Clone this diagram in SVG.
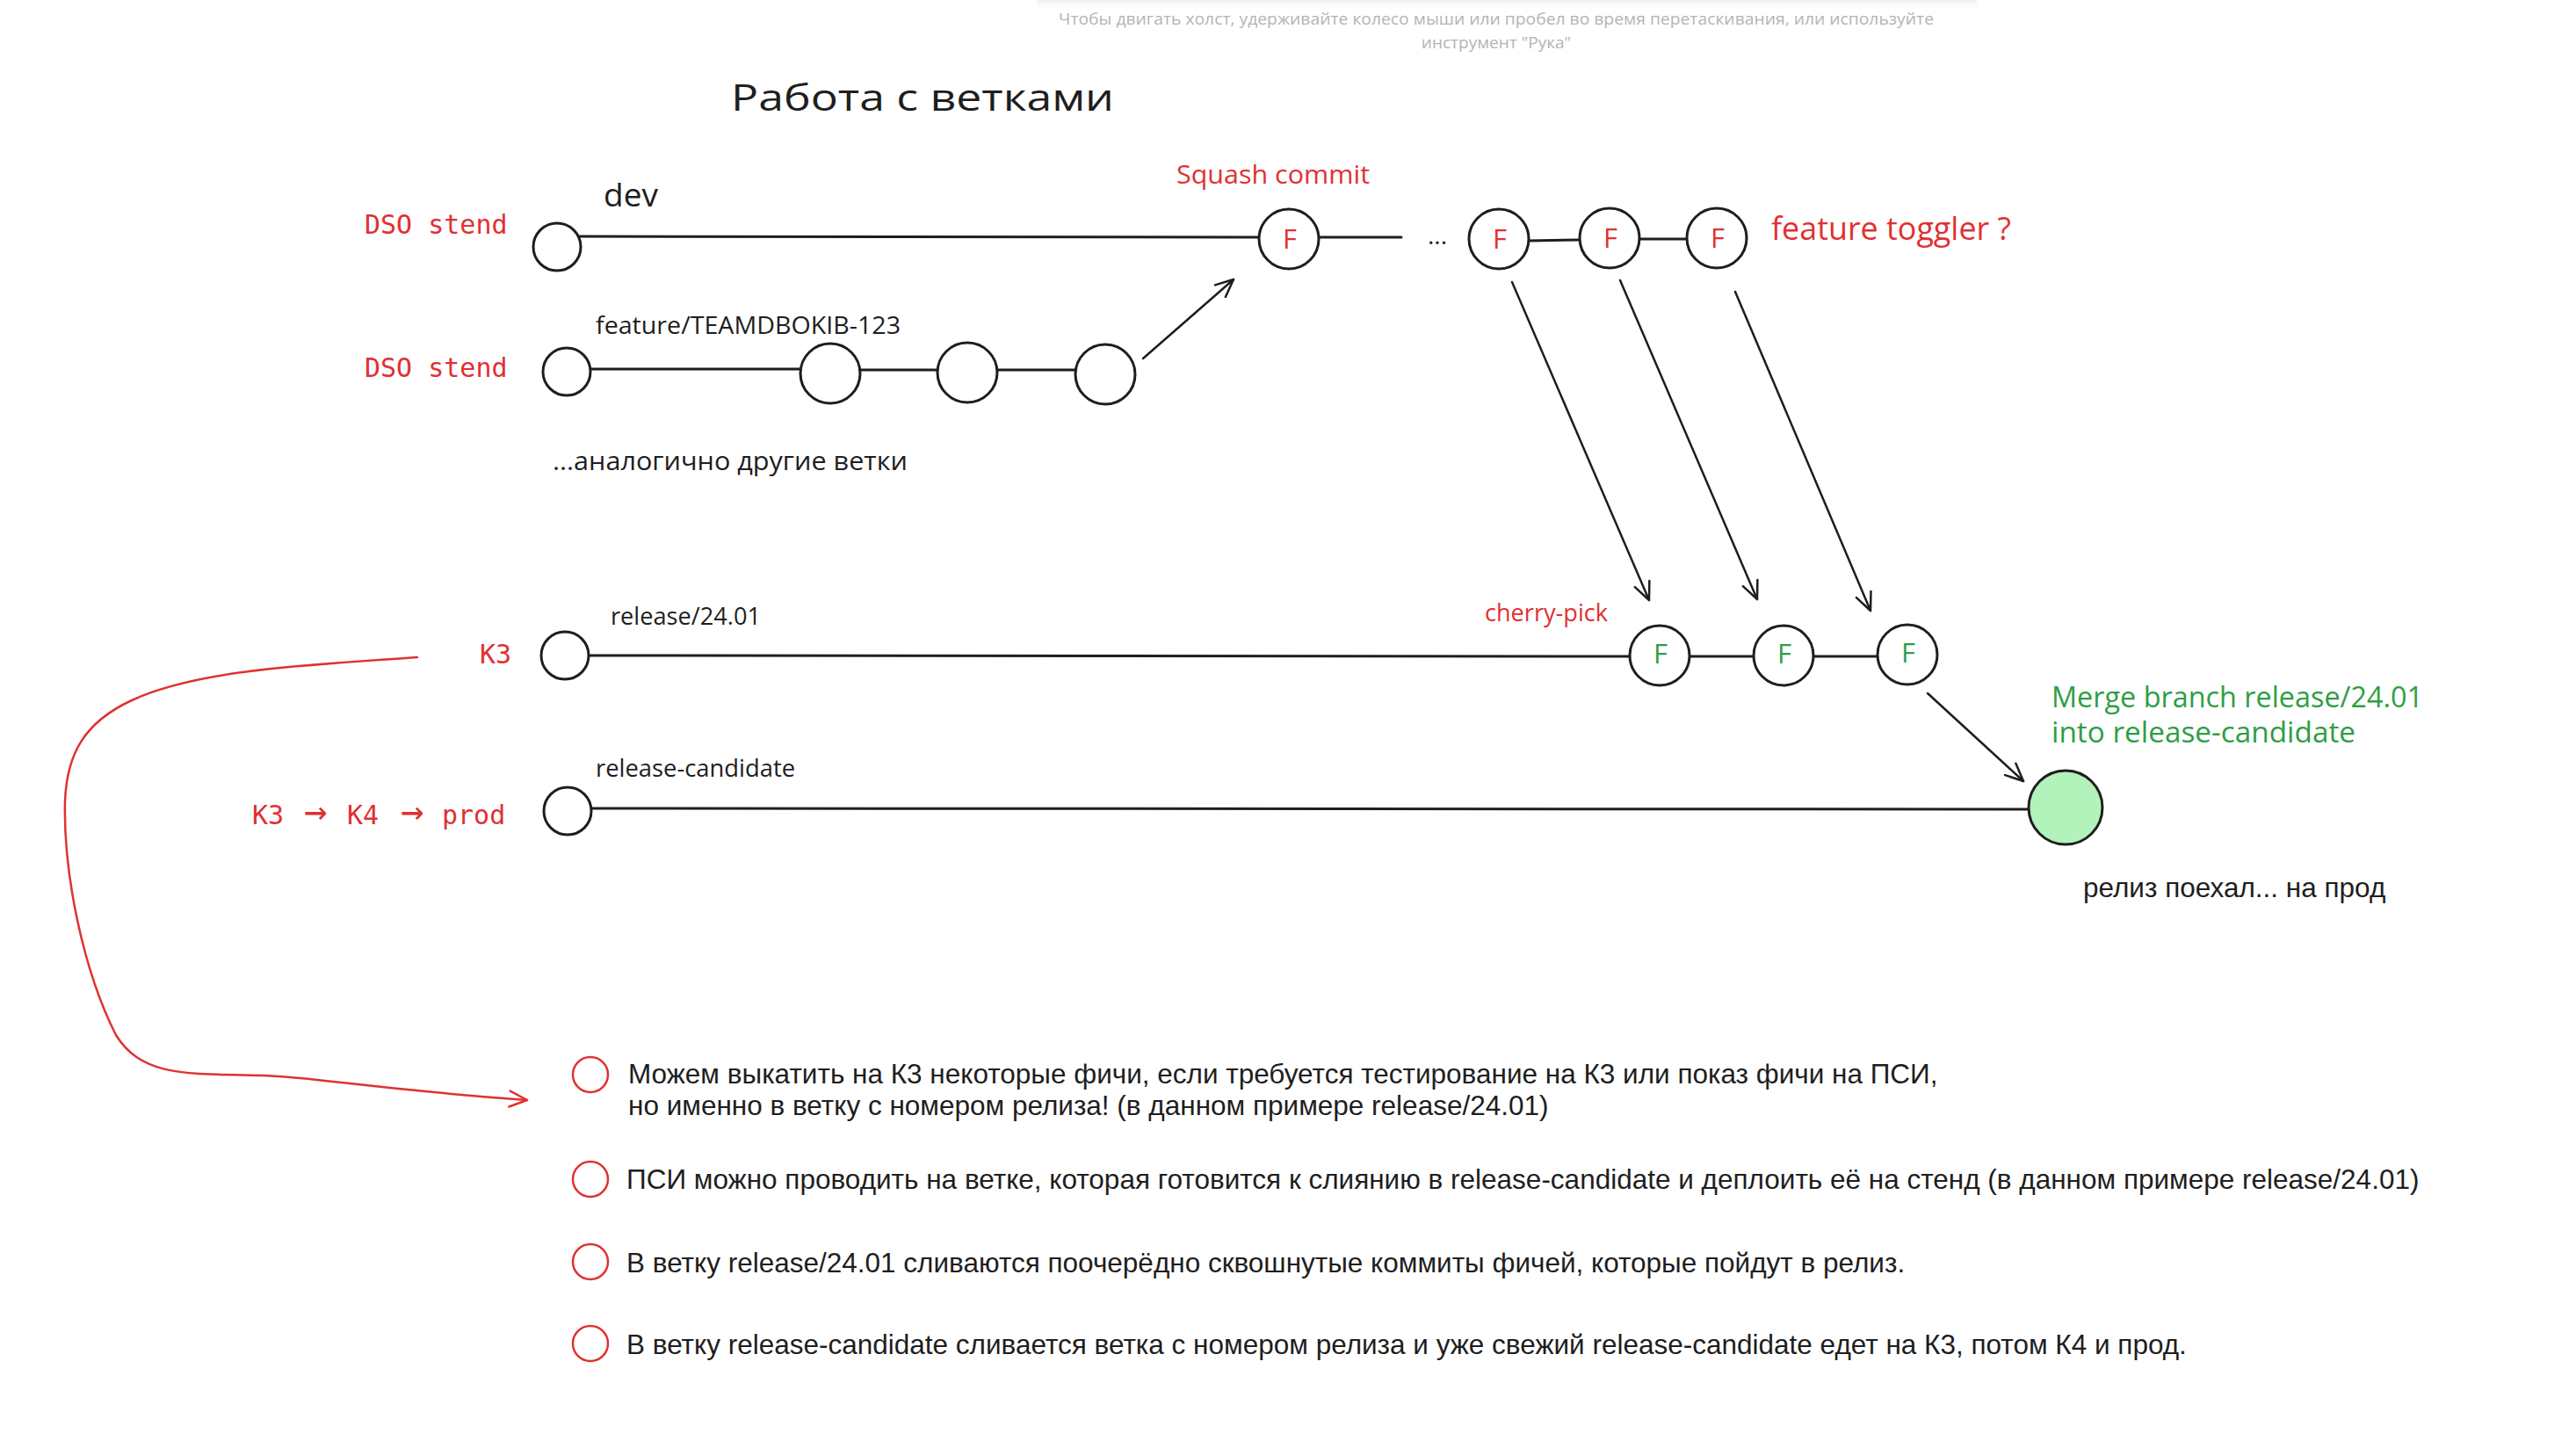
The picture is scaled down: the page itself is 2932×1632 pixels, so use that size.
<svg xmlns="http://www.w3.org/2000/svg" width="2932" height="1632" viewBox="0 0 2932 1632">
<defs>
<linearGradient id="topShade" x1="0" y1="0" x2="0" y2="1">
<stop offset="0" stop-color="#ececec" stop-opacity="0.9"/>
<stop offset="1" stop-color="#ffffff" stop-opacity="0"/>
</linearGradient>
<marker id="ah" viewBox="0 0 24 24" refX="22" refY="12" markerWidth="24" markerHeight="24" markerUnits="userSpaceOnUse" orient="auto">
<path d="M2,3 L22,12 L2,21" fill="none" stroke="#1e1e1e" stroke-width="2.5" stroke-linecap="round" stroke-linejoin="round"/>
</marker>
<marker id="ahr" viewBox="0 0 24 24" refX="22" refY="12" markerWidth="24" markerHeight="24" markerUnits="userSpaceOnUse" orient="auto">
<path d="M2,3 L22,12 L2,21" fill="none" stroke="#e03131" stroke-width="2.5" stroke-linecap="round" stroke-linejoin="round"/>
</marker>
</defs>
<style>
.node{fill:#ffffff;stroke:#1e1e1e;stroke-width:3}
.merge{fill:#b2f2bb;stroke:#1e1e1e;stroke-width:3}
.bullet{fill:none;stroke:#e03131;stroke-width:2.5}
.edge{fill:none;stroke:#1e1e1e;stroke-width:3;stroke-linecap:round}
.arrow{fill:none;stroke:#1e1e1e;stroke-width:2.5;stroke-linecap:round;marker-end:url(#ah)}
.rarrow{fill:none;stroke:#e03131;stroke-width:2.5;stroke-linecap:round;marker-end:url(#ahr)}
.hand{font-family:"Open Sans","Noto Sans",sans-serif;fill:#1e1e1e}
.mono{font-family:"DejaVu Sans Mono","Liberation Mono",monospace;fill:#e03131;font-size:30px}
.body{font-family:"Liberation Sans",Arial,sans-serif;fill:#1e1e1e;font-size:31.5px}
.hint{font-family:"Open Sans","Noto Sans",sans-serif;fill:#b4b4b4;font-size:19px}
.red{fill:#e03131}
.green{fill:#2f9e44}
.fl{font-family:"Open Sans","Noto Sans",sans-serif;font-size:31px;text-anchor:middle}
.arr{font-size:44px}
</style>
<rect x="0" y="0" width="2932" height="1632" fill="#ffffff"/>
<rect x="1180" y="0" width="1070" height="10" fill="url(#topShade)"/>

<g id="hint">
<text class="hint" x="1703" y="28" text-anchor="middle" textLength="996" lengthAdjust="spacingAndGlyphs">Чтобы двигать холст, удерживайте колесо мыши или пробел во время перетаскивания, или используйте</text>
<text class="hint" x="1703" y="55" text-anchor="middle">инструмент "Рука"</text>
</g>

<g id="title">
<text class="hand" x="832" y="126" font-size="42" textLength="436" lengthAdjust="spacingAndGlyphs">Работа с ветками</text>
</g>

<g id="labels">
<text class="mono" x="415" y="266">DSO stend</text>
<text class="mono" x="415" y="429">DSO stend</text>
<text class="mono" x="546" y="755">К3</text>
<text class="mono" y="938"><tspan x="287">К3</tspan><tspan class="arr" x="346">→</tspan><tspan x="395">К4</tspan><tspan class="arr" x="456">→</tspan><tspan x="503">prod</tspan></text>
<text class="hand" x="687" y="235" font-size="37">dev</text>
<text class="hand red" x="1339" y="209" font-size="30" textLength="220" lengthAdjust="spacingAndGlyphs">Squash commit</text>
<text class="hand" x="1625" y="278" font-size="28">...</text>
<text class="hand red" x="2016" y="273" font-size="36" textLength="273" lengthAdjust="spacingAndGlyphs">feature toggler ?</text>
<text class="hand" x="678" y="380" font-size="28" textLength="347" lengthAdjust="spacingAndGlyphs">feature/TEAMDBOKIB-123</text>
<text class="hand" x="629" y="535" font-size="30" textLength="404" lengthAdjust="spacingAndGlyphs">...аналогично другие ветки</text>
<text class="hand" x="695" y="711" font-size="27" textLength="171" lengthAdjust="spacingAndGlyphs">release/24.01</text>
<text class="hand" x="678" y="884" font-size="27" textLength="227" lengthAdjust="spacingAndGlyphs">release-candidate</text>
<text class="hand red" x="1690" y="707" font-size="27" textLength="140" lengthAdjust="spacingAndGlyphs">cherry-pick</text>
<text class="hand green" x="2335" y="805" font-size="32" textLength="423" lengthAdjust="spacingAndGlyphs">Merge branch release/24.01</text>
<text class="hand green" x="2335" y="845" font-size="32" textLength="346" lengthAdjust="spacingAndGlyphs">into release-candidate</text>
<text class="body" x="2371" y="1021">релиз поехал... на прод</text>
</g>

<g id="connectors">
<line class="edge" x1="660" y1="269" x2="1434" y2="270"/>
<line class="edge" x1="1500" y1="270" x2="1595" y2="270"/>
<line class="edge" x1="1740" y1="274" x2="1798" y2="273"/>
<line class="edge" x1="1865" y1="272" x2="1921" y2="272"/>
<line class="edge" x1="672" y1="420" x2="912" y2="420"/>
<line class="edge" x1="979" y1="421" x2="1067" y2="421"/>
<line class="edge" x1="1135" y1="421" x2="1225" y2="421"/>
<line class="edge" x1="670" y1="746" x2="1856" y2="747"/>
<line class="edge" x1="1922" y1="747" x2="1997" y2="747"/>
<line class="edge" x1="2063" y1="747" x2="2138" y2="747"/>
<line class="edge" x1="673" y1="920" x2="2309" y2="921"/>
<path class="arrow" d="M1301,408 L1404,318"/>
<path class="arrow" d="M1721,321 L1877,683"/>
<path class="arrow" d="M1844,319 L2000,682"/>
<path class="arrow" d="M1975,332 L2129,695"/>
<path class="arrow" d="M2194,789 L2303,889"/>
<path class="rarrow" d="M475,748 C350,757 225,762 150,797 C96,822 76,858 74,912 C72,995 95,1105 132,1178 C162,1226 212,1222 300,1224 C370,1227 410,1238 600,1252"/>
</g>

<g id="n-dev-start"><circle class="node" cx="634" cy="281" r="27"/></g>
<g id="n-squash"><circle class="node" cx="1467" cy="272" r="34"/><text class="fl red" x="1468" y="283">F</text></g>
<g id="n-dev-f1"><circle class="node" cx="1706" cy="272" r="34"/><text class="fl red" x="1707" y="283">F</text></g>
<g id="n-dev-f2"><circle class="node" cx="1832" cy="271" r="34"/><text class="fl red" x="1833" y="282">F</text></g>
<g id="n-dev-f3"><circle class="node" cx="1954" cy="271" r="34"/><text class="fl red" x="1955" y="282">F</text></g>

<g id="n-feat-start"><circle class="node" cx="645" cy="423" r="27"/></g>
<g id="n-feat-1"><circle class="node" cx="945" cy="425" r="34"/></g>
<g id="n-feat-2"><circle class="node" cx="1101" cy="424" r="34"/></g>
<g id="n-feat-3"><circle class="node" cx="1258" cy="426" r="34"/></g>

<g id="n-rel-start"><circle class="node" cx="643" cy="746" r="27"/></g>
<g id="n-rel-f1"><circle class="node" cx="1889" cy="746" r="34"/><text class="fl green" x="1890" y="755">F</text></g>
<g id="n-rel-f2"><circle class="node" cx="2030" cy="746" r="34"/><text class="fl green" x="2031" y="755">F</text></g>
<g id="n-rel-f3"><circle class="node" cx="2171" cy="745" r="34"/><text class="fl green" x="2172" y="754">F</text></g>

<g id="n-rc-start"><circle class="node" cx="646" cy="923" r="27"/></g>
<g id="n-rc-merge"><circle class="merge" cx="2351" cy="919" r="42"/></g>

<g id="checklist">
<circle class="bullet" cx="672" cy="1223" r="20"/>
<text class="body" x="715" y="1233">Можем выкатить на К3 некоторые фичи, если требуется тестирование на К3 или показ фичи на ПСИ,</text>
<text class="body" x="715" y="1269">но именно в ветку с номером релиза! (в данном примере release/24.01)</text>
<circle class="bullet" cx="672" cy="1342" r="20"/>
<text class="body" x="713" y="1353">ПСИ можно проводить на ветке, которая готовится к слиянию в release-candidate и деплоить её на стенд (в данном примере release/24.01)</text>
<circle class="bullet" cx="672" cy="1436" r="20"/>
<text class="body" x="713" y="1448">В ветку release/24.01 сливаются поочерёдно сквошнутые коммиты фичей, которые пойдут в релиз.</text>
<circle class="bullet" cx="672" cy="1529" r="20"/>
<text class="body" x="713" y="1541">В ветку release-candidate сливается ветка с номером релиза и уже свежий release-candidate едет на К3, потом К4 и прод.</text>
</g>
</svg>
